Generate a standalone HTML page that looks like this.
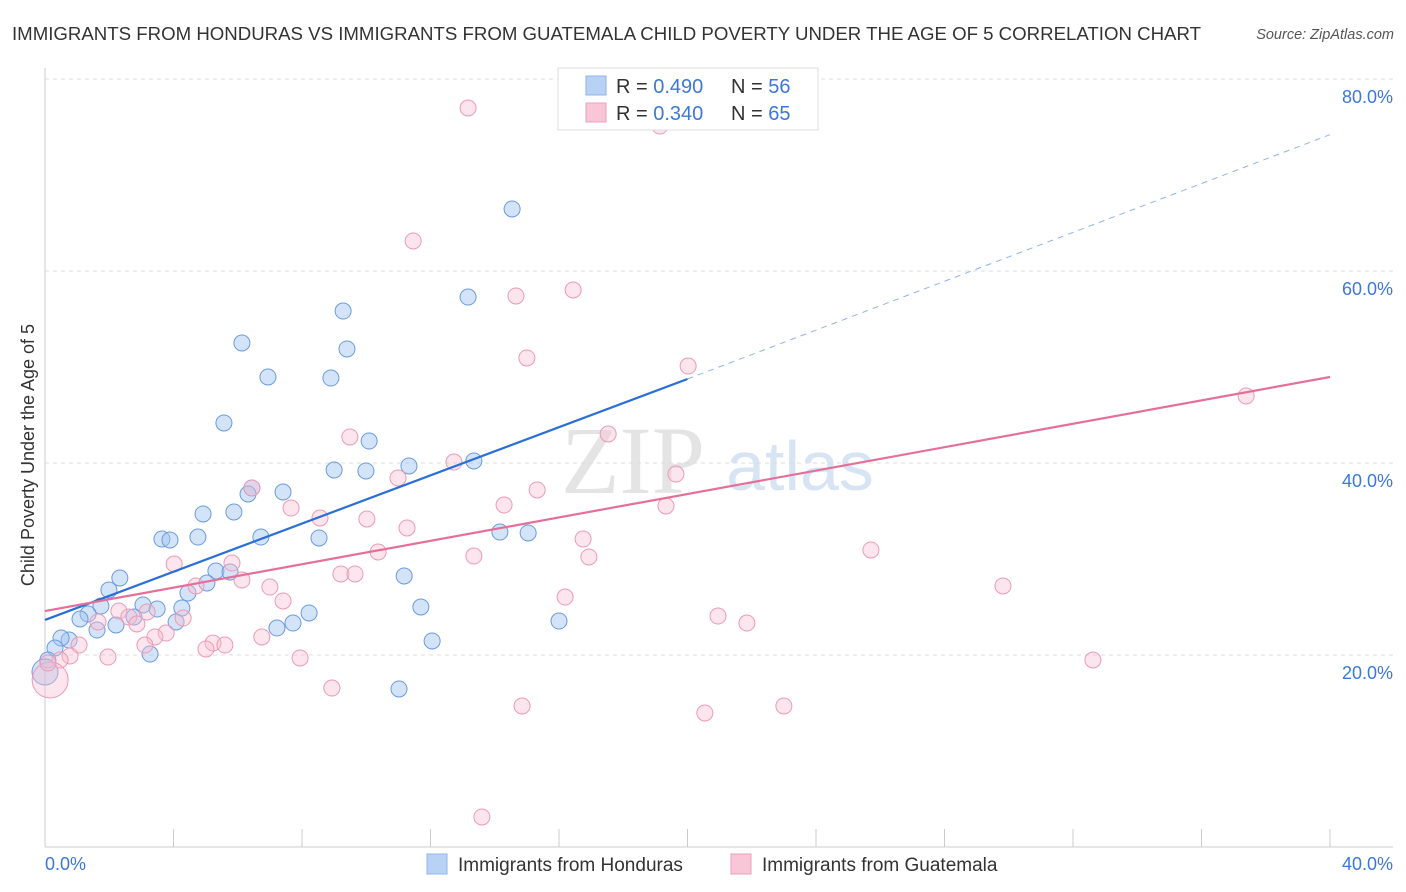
<!DOCTYPE html>
<html><head><meta charset="utf-8"><style>
body{margin:0;background:#fff;font-family:"Liberation Sans",sans-serif;}
#wrap{position:relative;width:1406px;height:892px;overflow:hidden;}
</style></head><body>
<div id="wrap">
<svg id="svg" width="1406" height="892" xmlns="http://www.w3.org/2000/svg">
<text x="12" y="40" font-size="18" fill="#333" textLength="1189" lengthAdjust="spacingAndGlyphs">IMMIGRANTS FROM HONDURAS VS IMMIGRANTS FROM GUATEMALA CHILD POVERTY UNDER THE AGE OF 5 CORRELATION CHART</text>
<text x="1394" y="39" font-size="14.5" fill="#555" font-style="italic" text-anchor="end">Source: ZipAtlas.com</text>
<text x="633" y="493" font-size="96" fill="#e4e4e4" font-family="Liberation Serif,serif" text-anchor="middle">ZIP</text>
<text x="800" y="490" font-size="70" fill="#d6e4f4" text-anchor="middle">atlas</text>
<text transform="translate(34,455) rotate(-90)" font-size="18" fill="#333" text-anchor="middle">Child Poverty Under the Age of 5</text>
<g id="grid"></g><g id="marks"></g><g id="trend"></g>
<g>
<rect x="558" y="68" width="260" height="62" fill="#fff" stroke="#ddd"/>
<rect x="586" y="76" width="20" height="19" fill="#b8d2f5" stroke="#8fb4e8"/>
<rect x="586" y="103" width="20" height="19" fill="#f8c6d6" stroke="#ee9fba"/>
<text x="616" y="93" font-size="20" fill="#333">R = <tspan fill="#3c78d8">0.490</tspan></text>
<text x="731" y="93" font-size="20" fill="#333">N = <tspan fill="#3c78d8">56</tspan></text>
<text x="616" y="120" font-size="20" fill="#333">R = <tspan fill="#3c78d8">0.340</tspan></text>
<text x="731" y="120" font-size="20" fill="#333">N = <tspan fill="#3c78d8">65</tspan></text>
</g>
<g>
<rect x="427" y="854" width="20" height="20" fill="#b8d2f5" stroke="#8fb4e8"/>
<text x="458" y="871" font-size="19" fill="#333">Immigrants from Honduras</text>
<rect x="731" y="854" width="20" height="20" fill="#f8c6d6" stroke="#ee9fba"/>
<text x="762" y="871" font-size="19" fill="#333">Immigrants from Guatemala</text>
</g>
</svg></div>
<script>
const blueX=[14.54,13.17,9.28,9.40,6.13,6.94,8.90,5.57,10.09,9.99,11.33,13.35,9.00,6.44,6.32,7.41,4.92,5.88,3.64,3.89,4.76,6.72,8.53,14.16,15.04,2.33,1.99,5.32,5.76,5.04,4.45,3.05,3.49,4.26,1.74,1.34,1.09,2.21,2.77,1.62,4.08,7.72,7.22,8.22,11.18,11.70,16.0,12.05,3.27,0.75,0.50,0.31,0.09,11.02,0.0];
const blueY=[66.46,57.29,55.83,51.88,52.5,48.96,48.85,44.17,42.29,39.17,39.69,40.21,39.27,37.4,36.77,36.98,34.69,34.9,32.08,31.98,32.29,32.29,32.19,32.81,32.71,28.02,26.77,28.75,28.65,27.5,26.46,25.21,24.79,24.9,25.1,24.27,23.75,23.13,23.96,22.6,23.44,23.33,22.81,24.38,28.23,25.0,23.54,21.46,20.1,21.56,21.77,20.73,19.48,16.46,18.23];
const pinkX=[13.17,23.69,19.14,11.46,14.66,16.44,15.0,20.02,37.39,9.49,17.53,12.73,19.64,10.99,15.32,14.29,19.33,6.44,7.66,8.56,10.02,11.27,16.75,10.37,16.93,13.35,25.71,5.82,4.02,6.13,4.70,9.21,9.65,7.0,7.41,29.82,16.19,2.30,3.18,2.61,4.30,2.86,1.65,20.95,21.85,3.77,3.42,1.06,6.75,5.23,5.60,5.01,3.11,1.96,0.78,0.47,7.94,32.62,8.93,14.85,20.54,23.0,13.60,0.16,0.09];
const pinkY=[76.98,76.56,75.1,63.13,57.4,58.02,50.94,50.1,46.98,42.71,43.02,40.1,38.85,38.44,37.19,35.63,35.52,37.4,35.31,34.27,34.17,33.23,32.08,30.73,30.21,30.31,30.94,29.58,29.48,27.81,27.19,28.44,28.44,27.08,25.63,27.19,26.04,24.58,24.48,23.96,23.85,23.23,23.44,24.06,23.33,22.29,21.88,21.04,21.88,21.25,21.04,20.63,21.04,19.79,19.9,19.48,19.69,19.48,16.56,14.69,13.96,14.69,3.13,17.4,19.17];
const yTicks=[20,40,60,80];
const xTickLabels=["0.0%","40.0%"];
const blueTrend=[23.65,48.75,74.2];
const pinkTrend=[24.58,48.96];
const NS="http://www.w3.org/2000/svg";
const sx=v=>45+v*32.125, sy=v=>847-v*9.6;
function mk(tag,attrs,parent){const e=document.createElementNS(NS,tag);for(const k in attrs)e.setAttribute(k,attrs[k]);parent.appendChild(e);return e;}
const grid=document.getElementById('grid'),marks=document.getElementById('marks'),trend=document.getElementById('trend');
yTicks.forEach(t=>{
 const l=mk('line',{x1:45,x2:1393,y1:sy(t),y2:sy(t),stroke:'#ddd','stroke-dasharray':'4,4'},grid);
 
 
 const tx=mk('text',{x:1393,y:sy(t)+24,'font-size':18,fill:'#3c78d8','text-anchor':'end'},grid);
 tx.textContent=t.toFixed(1)+'%';
 
 
});
const ax=mk('line',{x1:45,x2:1393,y1:847,y2:847,stroke:'#ccc'},grid);


const ay=mk('line',{x1:45,x2:45,y1:68,y2:847,stroke:'#ccc'},grid);


for(let i=0;i<=40;i+=4){
 const tk=mk('line',{x1:sx(i),x2:sx(i),y1:829,y2:847,stroke:'#ccc'},grid);
 
 
}
[[0,'start',45],[40,'end',1393]].forEach((d,i)=>{
 const tx=mk('text',{x:d[2],y:870,'font-size':18,fill:'#3c78d8','text-anchor':d[1]},grid);
 tx.textContent=xTickLabels[i];
 
 
});
blueX.forEach((x,i)=>{
 const c=mk('circle',{cx:sx(x),cy:sy(blueY[i]),r:i==blueX.length-1?13:8,fill:'rgba(160,196,240,0.45)',stroke:'#6a9be0','stroke-width':1},marks);
 
 
});
pinkX.forEach((x,i)=>{
 const c=mk('circle',{cx:sx(x),cy:sy(pinkY[i]),r:i==pinkX.length-2?18:8,fill:'rgba(248,190,208,0.4)',stroke:'#ec9ab5','stroke-width':1},marks);
 
 
});
const b1=mk('line',{x1:sx(0),y1:sy(blueTrend[0]),x2:sx(20),y2:sy(blueTrend[1]),stroke:'#2a6fd6','stroke-width':2.2},trend);


const b2=mk('line',{x1:sx(20),y1:sy(blueTrend[1]),x2:sx(40),y2:sy(blueTrend[2]),stroke:'#8fb4e8','stroke-width':1,'stroke-dasharray':'6,5'},trend);


const p1=mk('line',{x1:sx(0),y1:sy(pinkTrend[0]),x2:sx(40),y2:sy(pinkTrend[1]),stroke:'#e4709a','stroke-width':2.2},trend);


</script>
</body></html>
